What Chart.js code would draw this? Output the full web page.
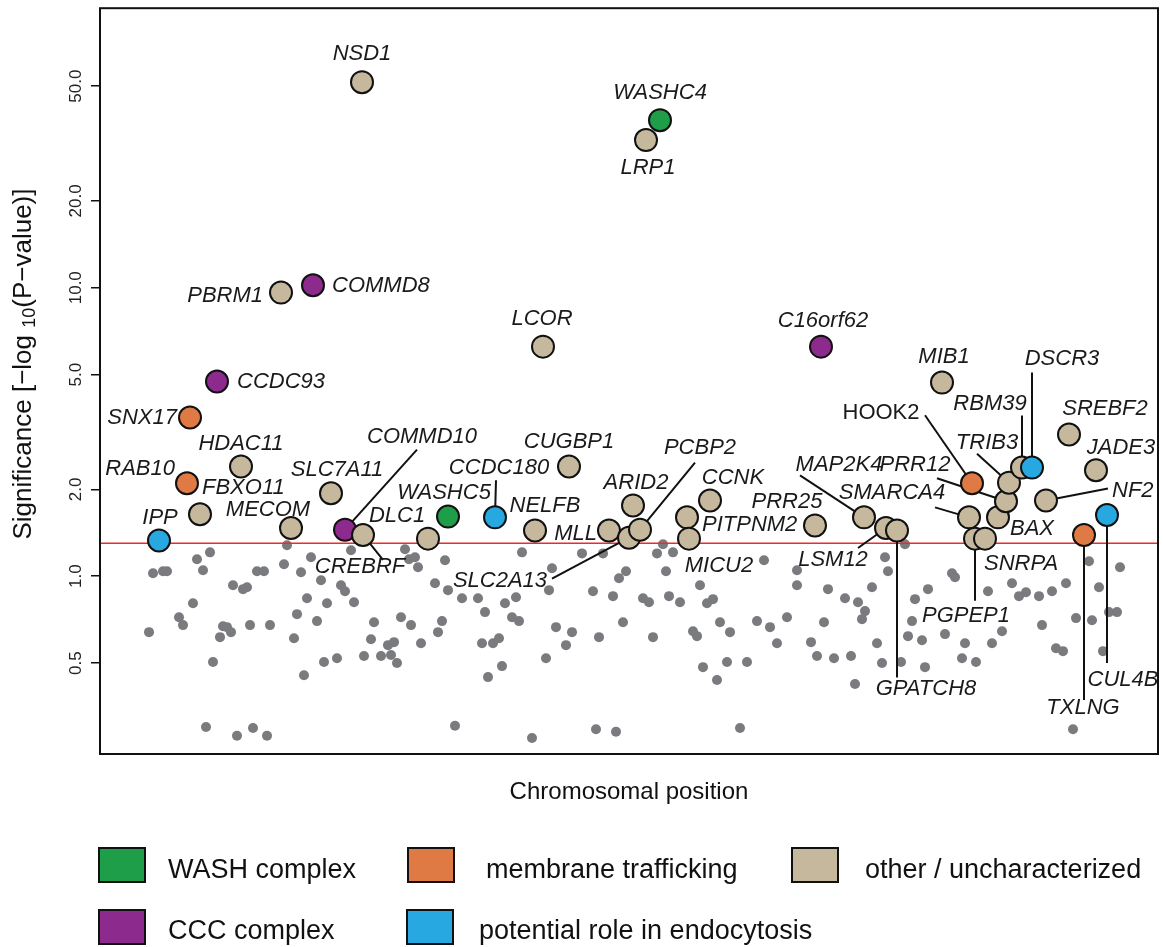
<!DOCTYPE html>
<html>
<head>
<meta charset="utf-8">
<script src="https://cdn.jsdelivr.net/npm/chart.js@4.4.1/dist/chart.umd.min.js"></script>
<style>
html,body{margin:0;padding:0;background:#fff;}
#wrap{width:1163px;height:947px;position:relative;}
</style>
</head>
<body>
<div id="wrap"><canvas id="c" width="1163" height="947"></canvas></div>
<script>
// ---------------- DATA ----------------
// background (non-significant) genes: chromosomal position (arbitrary units) and significance
const bgPos = [187,110,97,103,53,63,67,157,164,184,201,211,221,251,305,309,315,318,345,335,348,133,143,147,241,245,207,227,254,93,79,83,197,217,274,301,311,342,338,49,123,127,131,120,150,170,194,271,288,294,321,264,281,291,297,224,237,113,204,106,137,153,167,
362,378,385,405,416,412,419,382,393,399,402,388,422,452,449,456,472,466,446,482,503,526,519,493,513,523,499,543,549,569,580,557,563,573,566,553,600,607,613,620,630,593,597,603,617,627,647,657,670,677,687,697,664,355,432,496,516,640,697,
805,785,788,728,745,758,765,762,772,724,711,717,734,751,777,782,801,825,755,828,815,812,808,822,845,852,855,865,862,876,888,892,902,912,919,926,939,952,966,942,956,963,976,992,989,999,1009,1017,1003,1020,973];
const bgSig = [1.28,1.21,1.145,1.049,1.024,1.041,1.041,1.041,1.041,1.10,1.032,1.163,0.969,1.23,1.24,1.145,1.163,1.074,1.136,0.946,0.895,0.931,0.902,0.916,0.931,0.887,0.839,0.806,0.813,0.806,0.721,0.677,0.739,0.699,0.693,0.721,0.677,0.699,0.640,0.640,0.671,0.666,0.640,0.615,0.677,0.677,0.610,0.605,0.577,0.591,0.586,0.529,0.529,0.533,0.500,0.504,0.520,0.504,0.454,0.300,0.280,0.298,0.280,
0.839,0.839,0.751,0.806,0.846,0.721,0.699,0.586,0.586,0.610,0.488,0.447,1.21,1.066,0.895,0.666,0.640,0.577,0.520,1.20,1.20,1.041,0.984,0.887,0.853,0.693,0.615,0.839,0.813,0.853,0.813,1.20,1.29,1.21,1.041,0.615,0.931,0.806,0.833,0.693,0.640,0.645,0.620,0.484,0.437,0.504,0.504,0.699,0.666,0.586,0.721,0.931,1.136,0.303,0.275,0.295,0.289,0.298,1.049,
1.29,1.163,1.041,0.902,0.839,0.813,0.757,0.710,0.916,0.693,0.591,0.529,0.520,0.529,0.586,0.500,0.504,0.484,0.423,0.902,0.833,0.699,0.620,0.600,0.630,1.024,0.992,0.586,0.520,0.504,0.887,0.586,0.645,0.946,0.853,0.880,0.853,0.887,0.946,0.677,0.563,0.550,0.716,0.704,1.127,0.916,0.751,0.751,0.550,1.074,0.295];

// highlighted genes
const geneNames = ['IPP','RAB10','SNX17','FBXO11','CCDC93','HDAC11','PBRM1','MECOM','COMMD8','SLC7A11','COMMD10','NSD1','CREBRF','DLC1','WASHC5','CCDC180','NELFB','LCOR','CUGBP1','MLL','SLC2A13','ARID2','PCBP2','WASHC4','LRP1','PITPNM2','MICU2','CCNK','PRR25','C16orf62','MAP2K4','LSM12','GPATCH8','MIB1','SMARCA4','HOOK2','PGPEP1','SNRPA','BAX','PRR12','TRIB3','RBM39','DSCR3','NF2','SREBF2','TXLNG','JADE3','CUL4B'];
const genePos = [59,87,90,100,117,141,181,191,213,231,245,262,263,328,348,395,435,443,469,509,529,533,540,560,546,587,589,610,715,721,764,786,797,842,869,872,875,885,898,906,909,922,932,946,969,984,996,1007];
const geneSig = [1.33,2.10,3.55,1.64,4.73,2.40,9.62,1.47,10.2,1.94,1.45,51.6,1.39,1.35,1.61,1.60,1.44,6.25,2.40,1.44,1.36,1.76,1.45,38.1,32.5,1.60,1.35,1.83,1.50,6.25,1.60,1.47,1.44,4.69,1.60,2.10,1.35,1.35,1.60,1.82,2.11,2.38,2.38,1.83,3.10,1.39,2.33,1.63];
const geneGroup = ['potential role in endocytosis','membrane trafficking','membrane trafficking','other / uncharacterized','CCC complex','other / uncharacterized','other / uncharacterized','other / uncharacterized','CCC complex','other / uncharacterized','CCC complex','other / uncharacterized','other / uncharacterized','other / uncharacterized','WASH complex','potential role in endocytosis','other / uncharacterized','other / uncharacterized','other / uncharacterized','other / uncharacterized','other / uncharacterized','other / uncharacterized','other / uncharacterized','WASH complex','other / uncharacterized','other / uncharacterized','other / uncharacterized','other / uncharacterized','other / uncharacterized','CCC complex','other / uncharacterized','other / uncharacterized','other / uncharacterized','other / uncharacterized','other / uncharacterized','membrane trafficking','other / uncharacterized','other / uncharacterized','other / uncharacterized','other / uncharacterized','other / uncharacterized','other / uncharacterized','potential role in endocytosis','other / uncharacterized','other / uncharacterized','membrane trafficking','other / uncharacterized','potential role in endocytosis'];

const categories = ['WASH complex','membrane trafficking','other / uncharacterized','CCC complex','potential role in endocytosis'];
const yTickValues = [0.5,1,2,5,10,20,50];
const threshold = 1.301; // -log10(0.05)

// ---------------- STYLE / LAYOUT ----------------
const catColor = {
  'WASH complex':'#1f9e49',
  'membrane trafficking':'#e07a45',
  'other / uncharacterized':'#c6b89c',
  'CCC complex':'#8c2b8d',
  'potential role in endocytosis':'#27a8e0'
};
// label offsets (px) relative to point; align; optional leader line end offset
const labelLayout = {
  IPP:{dx:1,dy:-23}, RAB10:{dx:-12,dy:-14,align:'right'}, SNX17:{dx:-13,dy:0,align:'right'},
  FBXO11:{dx:2,dy:-26,align:'left'}, CCDC93:{dx:20,dy:0,align:'left'}, HDAC11:{dx:0,dy:-23},
  PBRM1:{dx:-18,dy:3,align:'right'}, MECOM:{dx:-23,dy:-18}, COMMD8:{dx:19,dy:1,align:'left'},
  SLC7A11:{dx:6,dy:-23}, COMMD10:{dx:77,dy:-93,line:[72,-80]}, NSD1:{dx:0,dy:-28},
  CREBRF:{dx:-3,dy:32,line:[20,25]}, DLC1:{dx:-31,dy:-23}, WASHC5:{dx:-4,dy:-24},
  CCDC180:{dx:4,dy:-49,line:[1,-37]}, NELFB:{dx:10,dy:-25}, LCOR:{dx:-1,dy:-28},
  CUGBP1:{dx:0,dy:-25}, MLL:{dx:-12,dy:3,align:'right'}, SLC2A13:{dx:-129,dy:43,line:[-77,41]},
  ARID2:{dx:3,dy:-23}, PCBP2:{dx:60,dy:-82,line:[55,-67]}, WASHC4:{dx:0,dy:-27}, LRP1:{dx:2,dy:28},
  PITPNM2:{dx:15,dy:8,align:'left'}, MICU2:{dx:30,dy:27}, CCNK:{dx:23,dy:-23}, PRR25:{dx:-28,dy:-24},
  C16orf62:{dx:2,dy:-26}, MAP2K4:{dx:-25,dy:-52,line:[-64,-42]}, LSM12:{dx:-53,dy:32,line:[-28,20]},
  GPATCH8:{dx:29,dy:158,line:[0,147]}, MIB1:{dx:2,dy:-26}, SMARCA4:{dx:-77,dy:-24,line:[-34,-10]},
  HOOK2:{dx:-91,dy:-70,line:[-47,-68],upright:true}, PGPEP1:{dx:-9,dy:77,line:[0,62]},
  SNRPA:{dx:-1,dy:25,align:'left'}, BAX:{dx:12,dy:12,align:'left'}, PRR12:{dx:-91,dy:-36,line:[-69,-23]},
  TRIB3:{dx:-22,dy:-40,line:[-32,-29]}, RBM39:{dx:-32,dy:-64,line:[0,-52]}, DSCR3:{dx:30,dy:-109,line:[0,-95]},
  NF2:{dx:66,dy:-10,align:'left',line:[62,-12]}, SREBF2:{dx:36,dy:-26}, TXLNG:{dx:-1,dy:173,line:[0,165]},
  JADE3:{dx:25,dy:-22}, CUL4B:{dx:16,dy:165,line:[0,148]}
};
const legendSlots = [
  {bx:99, by:848, tx:168, ty:871},
  {bx:408,by:848, tx:486, ty:871},
  {bx:792,by:848, tx:865, ty:871},
  {bx:99, by:910, tx:168, ty:932},
  {bx:407,by:910, tx:479, ty:932}
];
const FONT = '"Liberation Sans", Arial, Helvetica, sans-serif';

// ---------------- BUILD ----------------
const bgData = bgPos.map((x,i)=>({x:x, y:bgSig[i]}));
const geneData = genePos.map((x,i)=>({x:x, y:geneSig[i]}));
const X_MIN = 0, X_MAX = 1058;

const annot = {
  id:'annot',
  afterDatasetDraw(chart, args){
    if (args.index !== 1) return; // after threshold line, before highlighted genes
    const ctx = chart.ctx, xs = chart.scales.x, ys = chart.scales.y;
    ctx.save();
    ctx.strokeStyle = '#111'; ctx.lineWidth = 2;
    geneNames.forEach((g,i)=>{
      const L = labelLayout[g]; if (!L || !L.line) return;
      const px = xs.getPixelForValue(genePos[i]), py = ys.getPixelForValue(geneSig[i]);
      ctx.beginPath(); ctx.moveTo(px,py); ctx.lineTo(px+L.line[0], py+L.line[1]); ctx.stroke();
    });
    ctx.restore();
  },
  afterDraw(chart){
    const ctx = chart.ctx, a = chart.chartArea, xs = chart.scales.x, ys = chart.scales.y;
    ctx.save();
    // box
    ctx.strokeStyle = '#111'; ctx.lineWidth = 2;
    ctx.strokeRect(a.left, a.top, a.right-a.left, a.bottom-a.top);
    // gene labels
    ctx.fillStyle = '#1a1a1a'; ctx.textBaseline = 'middle';
    geneNames.forEach((g,i)=>{
      const L = labelLayout[g]; if (!L) return;
      const px = xs.getPixelForValue(genePos[i]), py = ys.getPixelForValue(geneSig[i]);
      ctx.font = (L.upright ? '' : 'italic ') + '22px ' + FONT;
      ctx.textAlign = L.align || 'center';
      ctx.fillText(g, px+L.dx, py+L.dy);
    });
    // y title with subscript
    const p1 = 'Significance [\u2212log ', sub = '10', p2 = '(P\u2212value)]';
    const bigF = '26px ' + FONT, smallF = '18px ' + FONT;
    ctx.font = bigF; const w1 = ctx.measureText(p1).width, w2 = ctx.measureText(p2).width;
    ctx.font = smallF; const ws = ctx.measureText(sub).width;
    const total = w1+ws+w2;
    ctx.translate(24, 364);
    ctx.rotate(-Math.PI/2);
    ctx.textAlign = 'left'; ctx.fillStyle = '#111';
    let cx = -total/2;
    ctx.font = bigF; ctx.fillText(p1, cx, 0); cx += w1;
    ctx.font = smallF; ctx.fillText(sub, cx, 6); cx += ws;
    ctx.font = bigF; ctx.fillText(p2, cx, 0);
    ctx.restore();
    // legend
    ctx.save();
    categories.forEach((c,i)=>{
      const s = legendSlots[i];
      ctx.fillStyle = catColor[c];
      ctx.fillRect(s.bx, s.by, 46, 34);
      ctx.strokeStyle = '#111'; ctx.lineWidth = 2;
      ctx.strokeRect(s.bx, s.by, 46, 34);
      ctx.fillStyle = '#111'; ctx.font = '27px ' + FONT;
      ctx.textAlign = 'left'; ctx.textBaseline = 'middle';
      ctx.fillText(c, s.tx, s.ty);
    });
    ctx.restore();
  }
};

new Chart(document.getElementById('c'), {
  type:'scatter',
  data:{
    datasets:[
      {label:'not significant', data:bgData, pointRadius:5, pointBackgroundColor:'#7a7b7f', pointBorderWidth:0, pointBorderColor:'#7a7b7f', order:3},
      {type:'line', label:'p = 0.05', data:[{x:X_MIN,y:threshold},{x:X_MAX,y:threshold}], borderColor:'#ee2a2a', borderWidth:1.5, pointRadius:0, fill:false, order:2},
      {label:'genes', data:geneData, pointRadius:11, pointBorderWidth:2, pointBorderColor:'#111',
       pointBackgroundColor: geneGroup.map(g=>catColor[g]), order:1}
    ]
  },
  options:{
    responsive:false, animation:false, devicePixelRatio:1, events:[],
    layout:{autoPadding:false, padding:{top:7,right:5,left:0,bottom:0}},
    plugins:{legend:{display:false}, tooltip:{enabled:false}},
    scales:{
      x:{type:'linear', min:X_MIN, max:X_MAX, bounds:'data',
         ticks:{display:false}, grid:{display:false, drawTicks:false}, border:{display:false},
         title:{display:true, text:'Chromosomal position', color:'#111', font:{family:FONT, size:24}, padding:{top:0,bottom:140}},
         afterFit(s){ s.height = 193; }},
      y:{type:'logarithmic', min:0.242, max:93.1, bounds:'data',
         afterBuildTicks(s){ s.ticks = yTickValues.map(v=>({value:v})); },
         ticks:{autoSkip:false, minRotation:90, maxRotation:90, crossAlign:'center', padding:-2,
                color:'#222', font:{family:FONT, size:17},
                callback:(v)=>Number(v).toFixed(1)},
         grid:{display:true, drawOnChartArea:false, drawTicks:true, tickLength:9, color:'#111', lineWidth:1.5},
         border:{display:false},
         afterFit(s){ s.width = 100; }}
    }
  },
  plugins:[annot]
});
</script>
</body>
</html>
